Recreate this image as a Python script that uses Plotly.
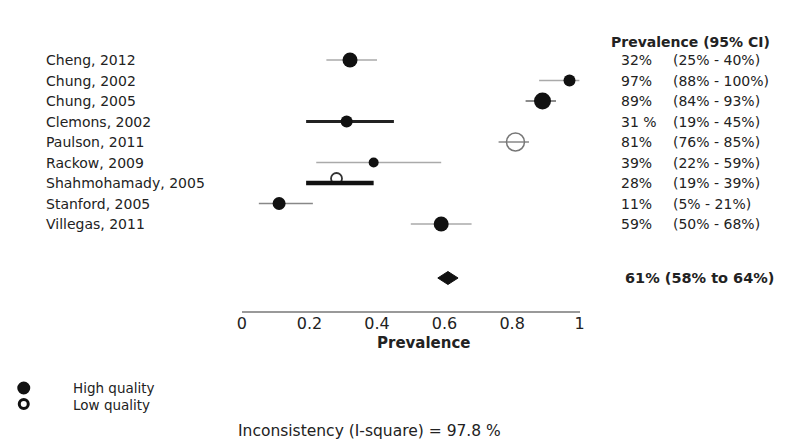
import plotly.graph_objects as go

# ---------------- data ----------------
studies = ["Cheng, 2012", "Chung, 2002", "Chung, 2005", "Clemons, 2002", "Paulson, 2011",
           "Rackow, 2009", "Shahmohamady, 2005", "Stanford, 2005", "Villegas, 2011"]
prevalence = [0.32, 0.97, 0.89, 0.31, 0.81, 0.39, 0.28, 0.11, 0.59]
ci_low = [0.25, 0.88, 0.84, 0.19, 0.76, 0.22, 0.19, 0.05, 0.50]
ci_high = [0.40, 1.00, 0.93, 0.45, 0.85, 0.59, 0.39, 0.21, 0.68]
quality = ["High", "High", "High", "High", "Low", "High", "Low", "High", "High"]
prev_text = ["32%", "97%", "89%", "31 %", "81%", "39%", "28%", "11%", "59%"]
ci_text = ["(25% - 40%)", "(88% - 100%)", "(84% - 93%)", "(19% - 45%)", "(76% - 85%)",
           "(22% - 59%)", "(19% - 39%)", "(5% - 21%)", "(50% - 68%)"]
pooled = 0.61
pooled_low = 0.58
pooled_high = 0.64
pooled_text = "61% (58% to 64%)"
i_square = 97.8
tick_vals = [0, 0.2, 0.4, 0.6, 0.8, 1]
tick_text = ["0", "0.2", "0.4", "0.6", "0.8", "1"]

# ---------------- styles ----------------
W, H = 790, 442
ROW0, STEP = 60, 20.5          # pixel of first row, row spacing
marker_size = [15, 12, 17, 12, 18, 10, 11, 13, 15]
line_color = ["#aaaaaa", "#aaaaaa", "#666666", "#222222", "#888888", "#aaaaaa", "#111111", "#888888", "#aaaaaa"]
line_width = [1.5, 1.5, 1.5, 3, 1.5, 1.5, 4.5, 1.5, 1.5]
FONT = "DejaVu Sans"
TXT = "#222222"

def px_to_row(p):
    return (p - ROW0) / STEP

def px_to_paper(p):
    return 1 - p / H

rows = list(range(len(studies)))
fig = go.Figure()

# point estimates drawn first for open (low quality) small markers, lines on top
for i in rows:
    if quality[i] == "Low" and line_width[i] > 3:
        # small open marker sitting on top of a thick bar: nudge it up a few px
        fig.add_trace(go.Scatter(
            x=[prevalence[i]], y=[rows[i] - 4.5 / STEP], mode="markers",
            marker=dict(size=marker_size[i], color="rgba(0,0,0,0)",
                        line=dict(width=1.8, color="#333333")),
            showlegend=False, hovertemplate=studies[i] + ": %{x}<extra></extra>"))

# CI lines
for i in rows:
    fig.add_trace(go.Scatter(
        x=[ci_low[i], ci_high[i]], y=[rows[i], rows[i]], mode="lines",
        line=dict(color=line_color[i], width=line_width[i]),
        hoverinfo="skip", showlegend=False))

# remaining point estimates
for i in rows:
    if quality[i] == "Low" and line_width[i] > 3:
        continue
    if quality[i] == "High":
        mk = dict(size=marker_size[i], color="#111111", line=dict(width=0))
    else:
        mk = dict(size=marker_size[i], color="rgba(0,0,0,0)",
                  line=dict(width=1.5, color="#777777"))
    fig.add_trace(go.Scatter(x=[prevalence[i]], y=[rows[i]], mode="markers",
                             marker=mk, showlegend=False,
                             hovertemplate=studies[i] + ": %{x}<extra></extra>"))

# pooled diamond
summary_row = px_to_row(278)
dh = 6.5 / STEP
fig.add_trace(go.Scatter(
    x=[pooled_low, pooled, pooled_high, pooled, pooled_low],
    y=[summary_row, summary_row - dh, summary_row, summary_row + dh, summary_row],
    mode="lines", fill="toself", fillcolor="#111111", line=dict(color="#111111", width=1),
    hoverinfo="skip", showlegend=False))

ann = []
# study labels and right column
for i in rows:
    ann.append(dict(x=39 / W, xref="paper", y=rows[i], yref="y", text=studies[i],
                    showarrow=False, xanchor="left", yanchor="middle",
                    font=dict(family=FONT, size=14, color=TXT)))
    ann.append(dict(x=622 / W, xref="paper", y=rows[i], yref="y", text=prev_text[i],
                    showarrow=False, xanchor="left", yanchor="middle",
                    font=dict(family=FONT, size=14, color=TXT)))
    ann.append(dict(x=675 / W, xref="paper", y=rows[i], yref="y", text=ci_text[i],
                    showarrow=False, xanchor="left", yanchor="middle",
                    font=dict(family=FONT, size=14, color=TXT)))

ann.append(dict(x=612 / W, xref="paper", y=px_to_paper(42), yref="paper",
                text="<b>Prevalence (95% CI)</b>", showarrow=False, xanchor="left",
                yanchor="middle", font=dict(family=FONT, size=14, color=TXT)))
ann.append(dict(x=626 / W, xref="paper", y=summary_row, yref="y",
                text="<b>" + pooled_text + "</b>", showarrow=False, xanchor="left",
                yanchor="middle", font=dict(family=FONT, size=14.5, color=TXT)))
ann.append(dict(x=424 / W, xref="paper", y=px_to_paper(343), yref="paper",
                text="<b>Prevalence</b>", showarrow=False, xanchor="center",
                yanchor="middle", font=dict(family=FONT, size=15, color=TXT)))
# legend texts
ann.append(dict(x=67 / W, xref="paper", y=px_to_paper(388), yref="paper",
                text="High quality", showarrow=False, xanchor="left", yanchor="middle",
                font=dict(family=FONT, size=13.5, color=TXT)))
ann.append(dict(x=67 / W, xref="paper", y=px_to_paper(405), yref="paper",
                text="Low quality", showarrow=False, xanchor="left", yanchor="middle",
                font=dict(family=FONT, size=13.5, color=TXT)))
ann.append(dict(x=234 / W, xref="paper", y=px_to_paper(431), yref="paper",
                text=f"Inconsistency (I-square) = {i_square} %", showarrow=False,
                xanchor="left", yanchor="middle",
                font=dict(family=FONT, size=15.5, color=TXT)))

shapes = [
    dict(type="circle", xref="paper", yref="paper", xsizemode="pixel", ysizemode="pixel",
         xanchor=19 / W, yanchor=px_to_paper(388), x0=-6.5, x1=6.5, y0=-6.5, y1=6.5,
         fillcolor="#111111", line=dict(width=0)),
    dict(type="circle", xref="paper", yref="paper", xsizemode="pixel", ysizemode="pixel",
         xanchor=19 / W, yanchor=px_to_paper(404), x0=-4.5, x1=4.5, y0=-4.5, y1=4.5,
         fillcolor="rgba(0,0,0,0)", line=dict(width=3, color="#111111")),
]

fig.update_layout(
    width=W, height=H, margin=dict(l=0, r=0, t=0, b=0),
    paper_bgcolor="white", plot_bgcolor="white",
    annotations=ann, shapes=shapes, showlegend=False,
    xaxis=dict(domain=[240 / W, 582 / W], range=[0, 1], anchor="free",
               position=px_to_paper(312), showgrid=False, zeroline=False,
               showline=True, linecolor="#999999", linewidth=1.5,
               tickvals=tick_vals, ticktext=tick_text, ticks="",
               ticklabelstandoff=-3,
               tickfont=dict(family=FONT, size=16, color=TXT)),
    yaxis=dict(range=[px_to_row(H), px_to_row(0)], visible=False, domain=[0, 1]),
)

fig.write_html("out.html")
